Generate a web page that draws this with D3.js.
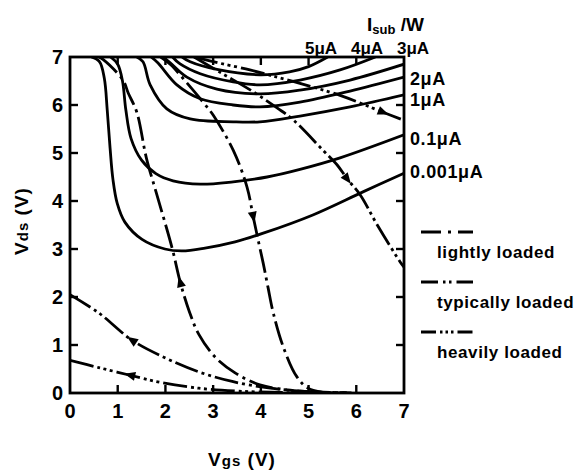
<!DOCTYPE html>
<html>
<head>
<meta charset="utf-8">
<script src="https://cdn.jsdelivr.net/npm/d3@7"></script>
<style>
  body { margin: 0; background: #fff; }
  text { font-family: "Liberation Sans", Arial, sans-serif; font-weight: bold; fill: #000; }
</style>
</head>
<body>
<div id="chart"></div>
<script>
// axis ticks
const vgsTicks = [0, 1, 2, 3, 4, 5, 6, 7];
const vdsTicks = [0, 1, 2, 3, 4, 5, 6, 7];

// iso substrate-current contours, [Vgs, Vds]
const isub0001 = [[0.45, 7.0], [0.62, 6.9], [0.72, 6.55], [0.78, 5.9], [0.84, 5.1], [0.9, 4.45], [0.99, 3.95], [1.15, 3.56], [1.51, 3.2], [1.99, 3.0], [2.35, 2.96], [2.83, 3.02], [3.46, 3.15], [4.05, 3.33], [5.09, 3.71], [6.14, 4.19], [7.0, 4.58]];
const isub01 = [[0.85, 7.0], [1.0, 6.85], [1.1, 6.5], [1.17, 5.9], [1.28, 5.3], [1.5, 4.85], [1.8, 4.57], [2.16, 4.42], [2.73, 4.35], [3.42, 4.4], [4.13, 4.5], [4.82, 4.66], [5.66, 4.9], [7.0, 5.38]];
const isub1 = [[1.4, 7.0], [1.53, 6.9], [1.68, 6.42], [2.03, 5.92], [2.52, 5.71], [3.42, 5.65], [3.98, 5.65], [4.82, 5.77], [5.87, 5.96], [7.0, 6.21]];
const isub2 = [[1.7, 7.0], [1.84, 6.88], [2.24, 6.42], [2.73, 6.13], [3.42, 6.0], [3.98, 5.96], [4.82, 6.06], [5.87, 6.29], [7.0, 6.58]];
const isub3 = [[1.95, 7.0], [2.1, 6.88], [2.45, 6.58], [3.08, 6.33], [3.98, 6.23], [4.82, 6.31], [5.87, 6.52], [7.0, 6.85]];
const isub4 = [[2.15, 7.0], [2.3, 6.86], [2.73, 6.65], [3.42, 6.48], [3.98, 6.42], [4.82, 6.52], [5.66, 6.73], [6.4, 7.0]];
const isub5 = [[2.35, 7.0], [2.52, 6.9], [3.08, 6.74], [3.98, 6.63], [4.6, 6.69], [5.0, 6.8], [5.4, 7.0]];
const contours = [isub0001, isub01, isub1, isub2, isub3, isub4, isub5];

// load trajectories, [Vgs, Vds]
const lightUp = [[0.6, 7.0], [0.69, 6.95], [1.11, 6.52], [1.22, 6.25], [1.4, 5.85], [1.6, 4.9], [1.8, 4.2], [2.14, 3.02], [2.31, 2.31], [2.5, 1.7], [2.7, 1.22], [3.04, 0.75], [3.46, 0.42], [3.98, 0.17], [4.82, 0.04], [5.8, 0.0]];
const lightDown = [[1.9, 7.0], [2.1, 6.85], [2.45, 6.46], [2.87, 5.96], [3.0, 5.79], [3.42, 5.06], [3.71, 4.29], [3.84, 3.67], [3.94, 3.2], [4.05, 2.7], [4.15, 2.2], [4.26, 1.67], [4.47, 0.96], [4.76, 0.33], [5.03, 0.08], [5.8, 0.0]];
const typicalDown = [[2.6, 7.0], [3.2, 6.65], [3.8, 6.3], [4.34, 5.94], [4.68, 5.69], [5.3, 5.06], [5.6, 4.75], [5.81, 4.46], [6.08, 4.13], [6.44, 3.5], [6.92, 2.73], [7.0, 2.62]];
const typicalUp = [[0.0, 2.05], [0.6, 1.67], [1.3, 1.1], [2.0, 0.73], [2.7, 0.44], [3.4, 0.24], [4.2, 0.1], [5.0, 0.03], [5.9, 0.0]];
const heavyDown = [[2.6, 7.0], [3.1, 6.88], [3.77, 6.73], [4.34, 6.58], [4.82, 6.45], [5.66, 6.2], [6.56, 5.85], [7.0, 5.68]];
const heavyUp = [[0.0, 0.68], [0.6, 0.53], [1.26, 0.37], [1.9, 0.22], [2.7, 0.1], [3.5, 0.04], [4.5, 0.01], [5.8, 0.0]];

// which point of each trajectory carries the arrow, and which way it points
const loadLines = [
  { pts: lightUp, kind: "light", arrowAt: 8, dir: -1 },
  { pts: lightDown, kind: "light", arrowAt: 7, dir: 1 },
  { pts: typicalDown, kind: "typical", arrowAt: 7, dir: 1 },
  { pts: typicalUp, kind: "typical", arrowAt: 2, dir: -1 },
  { pts: heavyDown, kind: "heavy", arrowAt: 6, dir: 1 },
  { pts: heavyUp, kind: "heavy", arrowAt: 2, dir: -1 }
];

const rightLabels = [["2\u03bcA", 6.55], ["1\u03bcA", 6.1], ["0.1\u03bcA", 5.3], ["0.001\u03bcA", 4.6]];
const topLabels = ["5\u03bcA", "4\u03bcA", "3\u03bcA"];
const legendNames = ["lightly loaded", "typically loaded", "heavily loaded"];

const dashes = {
  light: "24,5,3,5",
  typical: "24,4,3,4,3,4",
  heavy: "24,4,3,3.5,3,3.5,3,4"
};

const margin = { top: 57, left: 70 },
  width = 334,
  height = 336;

const svg = d3.select("#chart")
  .append("svg")
  .attr("width", 574)
  .attr("height", 473);

const g = svg.append("g")
  .attr("transform", "translate(" + margin.left + "," + margin.top + ")");

const x = d3.scaleLinear().domain([0, 7]).range([0, width]);
const y = d3.scaleLinear().domain([0, 7]).range([height, 0]);

svg.append("defs").append("clipPath")
  .attr("id", "plot")
  .append("rect")
  .attr("x", 0).attr("y", -1)
  .attr("width", width).attr("height", height + 1);

const line = d3.line()
  .x(d => x(d[0]))
  .y(d => y(d[1]))
  .curve(d3.curveCatmullRom.alpha(0.5));

const plot = g.append("g").attr("clip-path", "url(#plot)");

// contours
plot.selectAll("path.contour")
  .data(contours)
  .enter()
  .append("path")
  .attr("class", "contour")
  .attr("d", line)
  .attr("fill", "none")
  .attr("stroke", "#000")
  .attr("stroke-width", 2.8);

// load lines
plot.selectAll("path.load")
  .data(loadLines)
  .enter()
  .append("path")
  .attr("class", "load")
  .attr("d", d => line(d.pts))
  .attr("fill", "none")
  .attr("stroke", "#000")
  .attr("stroke-width", 2.8)
  .attr("stroke-dasharray", d => dashes[d.kind]);

// arrow heads
g.selectAll("path.arrow")
  .data(loadLines)
  .enter()
  .append("path")
  .attr("class", "arrow")
  .attr("d", "M6,0L-5,-4.5L-5,4.5Z")
  .attr("fill", "#000")
  .attr("transform", d => {
    const p = d.pts[d.arrowAt];
    const a = d.pts[d.arrowAt - 1], b = d.pts[d.arrowAt + 1];
    let ang = Math.atan2(y(b[1]) - y(a[1]), x(b[0]) - x(a[0])) * 180 / Math.PI;
    if (d.dir < 0) ang += 180;
    return "translate(" + x(p[0]) + "," + y(p[1]) + ") rotate(" + ang + ")";
  });

// frame
g.append("rect")
  .attr("width", width)
  .attr("height", height)
  .attr("fill", "none")
  .attr("stroke", "#000")
  .attr("stroke-width", 2.8);

// inward ticks on all sides
const tk = 8;
g.selectAll("line.tl").data(vdsTicks.slice(1, -1)).enter().append("line")
  .attr("x1", 0).attr("x2", tk).attr("y1", d => y(d)).attr("y2", d => y(d))
  .attr("stroke", "#000").attr("stroke-width", 2.4);
g.selectAll("line.tr").data(vdsTicks.slice(1, -1)).enter().append("line")
  .attr("x1", width).attr("x2", width - tk).attr("y1", d => y(d)).attr("y2", d => y(d))
  .attr("stroke", "#000").attr("stroke-width", 2.4);
g.selectAll("line.tb").data(vgsTicks.slice(1, -1)).enter().append("line")
  .attr("y1", height).attr("y2", height - tk).attr("x1", d => x(d)).attr("x2", d => x(d))
  .attr("stroke", "#000").attr("stroke-width", 2.4);
g.selectAll("line.tt").data(vgsTicks.slice(1, -1)).enter().append("line")
  .attr("y1", 0).attr("y2", tk).attr("x1", d => x(d)).attr("x2", d => x(d))
  .attr("stroke", "#000").attr("stroke-width", 2.4);

// tick labels
g.selectAll("text.yl").data(vdsTicks).enter().append("text")
  .attr("x", -7).attr("y", d => y(d) + 7)
  .attr("text-anchor", "end")
  .style("font-size", "20px")
  .text(d => d);
g.selectAll("text.xl").data(vgsTicks).enter().append("text")
  .attr("x", d => x(d)).attr("y", height + 25)
  .attr("text-anchor", "middle")
  .style("font-size", "20px")
  .text(d => d);

// axis titles
const xt = svg.append("text")
  .attr("x", 242).attr("y", 466)
  .attr("text-anchor", "middle")
  .style("font-size", "19px")
  .style("letter-spacing", "1px");
xt.append("tspan").text("V");
xt.append("tspan").style("font-size", "15px").text("gs");
xt.append("tspan").text(" (V)");

const yt = svg.append("text")
  .attr("transform", "translate(28,221) rotate(-90)")
  .attr("text-anchor", "middle")
  .style("font-size", "19px")
  .style("letter-spacing", "1px");
yt.append("tspan").text("V");
yt.append("tspan").style("font-size", "15px").text("ds");
yt.append("tspan").text(" (V)");

// Isub/W header and curve labels
const hd = svg.append("text")
  .attr("x", 367).attr("y", 31)
  .style("font-size", "19px");
hd.append("tspan").text("I");
hd.append("tspan").attr("dy", 3).style("font-size", "13px").text("sub");
hd.append("tspan").attr("dy", -3).text(" /W");

svg.selectAll("text.top").data(topLabels).enter().append("text")
  .attr("x", (d, i) => 305 + i * 46).attr("y", 54)
  .style("font-size", "17px")
  .text(d => d);

g.selectAll("text.rl").data(rightLabels).enter().append("text")
  .attr("x", width + 6).attr("y", d => y(d[1]) + 6)
  .style("font-size", "18px")
  .style("letter-spacing", "0.6px")
  .text(d => d[0]);

// legend
const leg = svg.append("g").attr("transform", "translate(421,232)");
const legDash = ["20,7,3,7,20", "17,5,2.5,3.5,2.5,5,17", "15,4,2.5,3,2.5,3,2.5,4,15"];
legendNames.forEach((name, i) => {
  leg.append("line")
    .attr("x1", 0).attr("x2", 52)
    .attr("y1", i * 50).attr("y2", i * 50)
    .attr("stroke", "#000").attr("stroke-width", 2.8)
    .attr("stroke-dasharray", legDash[i]);
  leg.append("text")
    .attr("x", 16).attr("y", i * 50 + 26)
    .style("font-size", "17px")
    .style("letter-spacing", "0.6px")
    .text(name);
});
</script>
</body>
</html>
